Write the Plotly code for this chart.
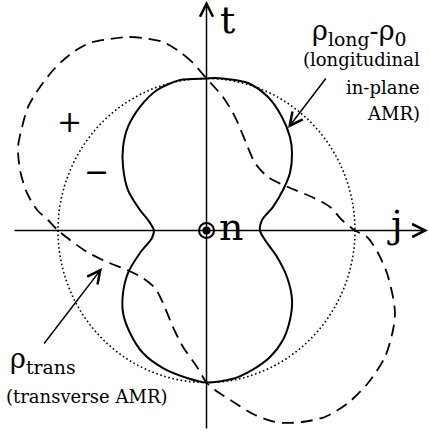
import plotly.graph_objects as go

# ---- data (units: dotted circle radius rho0 = 1) ----
long_x = [0.0, 0.057, 0.279, 0.414, 0.508, 0.562, 0.576, 0.562, 0.515, 0.448, 0.374, 0.360,
          0.394, 0.475, 0.542, 0.576, 0.562, 0.515, 0.428, 0.306, 0.172, 0.0,
          -0.131, -0.293, -0.428, -0.515, -0.562, -0.562, -0.529, -0.448, -0.367, -0.354,
          -0.394, -0.448, -0.529, -0.562, -0.562, -0.529, -0.448, -0.333, -0.178, 0.0]
long_y = [1.0, 1.003, 0.970, 0.878, 0.747, 0.615, 0.510, 0.378, 0.266, 0.155, 0.069, 0.0,
          -0.063, -0.174, -0.306, -0.457, -0.589, -0.720, -0.832, -0.918, -0.977, -1.0,
          -0.970, -0.905, -0.806, -0.674, -0.543, -0.411, -0.280, -0.148, -0.049, 0.0,
          0.069, 0.135, 0.266, 0.418, 0.549, 0.681, 0.813, 0.924, 0.990, 1.0]

trans_x = [0.0, -0.098, -0.178, -0.293, -0.428, -0.535, -0.650, -0.785, -0.906, -1.020,
           -1.121, -1.202, -1.242, -1.269, -1.256, -1.209, -1.141, -1.067, -1.0,
           -0.919, -0.805, -0.670, -0.535, -0.428, -0.347, -0.293, -0.226, -0.158, -0.064, 0.0,
           0.057, 0.192, 0.327, 0.461, 0.542, 0.643, 0.798, 0.953, 1.088, 1.202, 1.256, 1.269,
           1.256, 1.215, 1.155, 1.081, 1.0,
           0.912, 0.832, 0.710, 0.549, 0.414, 0.327, 0.259, 0.192, 0.111, 0.0]
trans_y = [1.0, 1.109, 1.174, 1.240, 1.266, 1.273, 1.260, 1.234, 1.168, 1.069,
           0.944, 0.812, 0.681, 0.549, 0.398, 0.247, 0.135, 0.069, 0.0,
           -0.0625, -0.141, -0.207, -0.260, -0.313, -0.378, -0.477, -0.635, -0.766, -0.898, -1.0,
           -1.049, -1.135, -1.214, -1.260, -1.266, -1.260, -1.227, -1.135, -1.003, -0.832, -0.655, -0.543,
           -0.438, -0.280, -0.148, -0.043, 0.0,
           0.069, 0.155, 0.220, 0.286, 0.352, 0.444, 0.595, 0.747, 0.878, 1.0]

rho0 = 1.0
origin_x = [0.0]
origin_y = [0.0]

FONT = "DejaVu Serif"
XR = [-1.3906, 1.4983]
YR = [-1.3586, 1.5164]

fig = go.Figure()

# dotted reference circle (rho0)
fig.add_shape(type="circle", xref="x", yref="y", x0=-rho0, x1=rho0, y0=-rho0, y1=rho0,
              line=dict(color="black", width=1.6, dash="1.6px,2.6px"))

fig.add_trace(go.Scatter(x=trans_x, y=trans_y, mode="lines",
                         line=dict(color="black", width=1.8, dash="12px,7px", shape="spline", smoothing=0.8),
                         hoverinfo="skip", showlegend=False))
fig.add_trace(go.Scatter(x=long_x, y=long_y, mode="lines",
                         line=dict(color="black", width=2, shape="spline", smoothing=0.8),
                         hoverinfo="skip", showlegend=False))

ann = []
# axes with arrow heads
ann.append(dict(x=1.491, y=0.0, ax=-1.303, ay=0.0, xref="x", yref="y", axref="x", ayref="y",
                text="", showarrow=True, arrowhead=5, arrowsize=1.7, arrowwidth=1.5, arrowcolor="black",
                standoff=0, startstandoff=0))
ann.append(dict(x=0.0, y=1.510, ax=0.0, ay=-1.3125, xref="x", yref="y", axref="x", ayref="y",
                text="", showarrow=True, arrowhead=5, arrowsize=1.7, arrowwidth=1.5, arrowcolor="black",
                standoff=0, startstandoff=0))
# pointer arrows
ann.append(dict(x=0.549, y=0.674, ax=0.811, ay=1.010, xref="x", yref="y", axref="x", ayref="y",
                text="", showarrow=True, arrowhead=5, arrowsize=1.7, arrowwidth=1.5, arrowcolor="black",
                standoff=0, startstandoff=0))
ann.append(dict(x=-0.704, y=-0.247, ax=-1.101, ay=-0.753, xref="x", yref="y", axref="x", ayref="y",
                text="", showarrow=True, arrowhead=5, arrowsize=1.7, arrowwidth=1.5, arrowcolor="black",
                standoff=0, startstandoff=0))

def label(x, y, text, size, xanchor="center", yanchor="middle"):
    ann.append(dict(x=x, y=y, xref="x", yref="y", text=text, showarrow=False,
                    xanchor=xanchor, yanchor=yanchor,
                    font=dict(family=FONT, size=size, color="black")))

label(0.141, 1.385, "t", 38)
label(1.266, 0.04, "j", 38)
label(0.165, 0.02, "n", 38)
label(-0.92, 0.72, "+", 30)
label(-0.74, 0.385, "−", 30)
label(1.027, 1.305, "ρ<sub>long</sub>-ρ<sub>0</sub>", 27)
label(1.451, 1.122, "(longitudinal", 18, xanchor="right")
label(1.451, 0.94, "in-plane", 18, xanchor="right")
label(1.451, 0.77, "AMR)", 18, xanchor="right")
label(-1.098, -0.855, "ρ<sub>trans</sub>", 27)
label(-0.811, -1.092, "(transverse AMR)", 18)

fig.add_trace(go.Scatter(x=origin_x, y=origin_y, mode="markers",
                         marker=dict(symbol="circle", size=15, color="white",
                                     line=dict(color="black", width=2)),
                         hoverinfo="skip", showlegend=False))
fig.add_trace(go.Scatter(x=origin_x, y=origin_y, mode="markers",
                         marker=dict(symbol="circle", size=8, color="black"),
                         hoverinfo="skip", showlegend=False))

fig.update_layout(
    width=429, height=437, margin=dict(l=0, r=0, t=0, b=0),
    paper_bgcolor="white", plot_bgcolor="white",
    font=dict(family=FONT),
    xaxis=dict(range=XR, visible=False, fixedrange=True),
    yaxis=dict(range=YR, visible=False, fixedrange=True),
    annotations=ann, showlegend=False,
)

fig.write_html("out.html", config={"displayModeBar": False},
               post_script="document.body.style.margin='0px';document.body.style.overflow='hidden';")
